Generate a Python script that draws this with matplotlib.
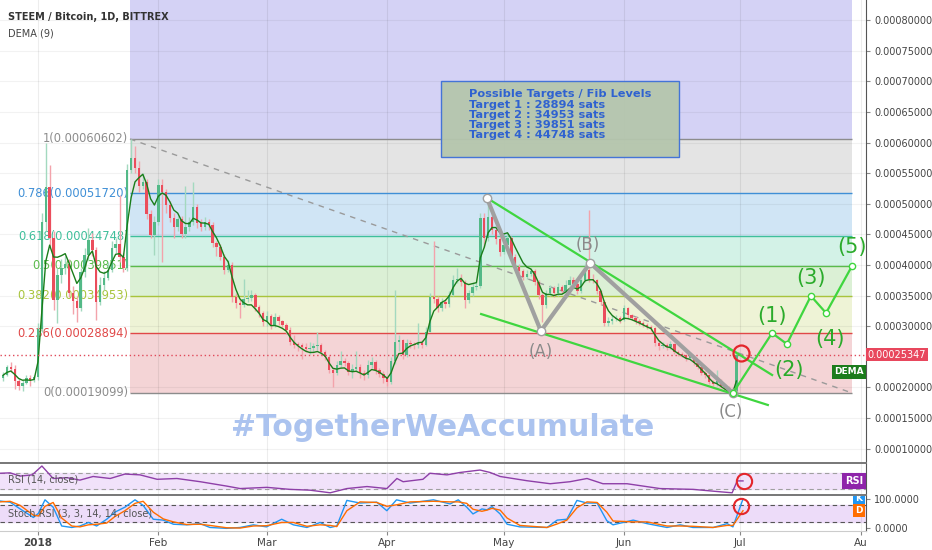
import numpy as np
import pandas as pd
import matplotlib
matplotlib.use('Agg')
import matplotlib.pyplot as plt
from matplotlib.patches import Rectangle

plt.rcParams['font.family'] = ['DejaVu Sans']

# STEEM/BTC daily candles, prices in thousands of satoshi (10.0 = 0.00010000 BTC)
# day 0 = 2018-01-01, first candle on day -9
first_day = -9
first_open = 21.5
closes = [
    22.0, 23.3, 23.0, 21.0, 20.3, 20.8, 21.5, 21.2, 21.7, 29.5,
    47.0, 52.8, 44.5, 34.3, 38.4, 39.5, 40.2, 35.5, 34.2, 33.0,
    38.9, 41.6, 44.1, 42.5, 34.0, 36.7, 37.9, 39.2, 42.8, 43.5,
    41.3, 39.5, 55.5, 57.5, 55.9, 53.0, 53.5, 48.3, 44.9, 47.0,
    53.1, 51.9, 49.8, 47.7, 46.2, 47.5, 45.0, 46.3, 47.0, 49.5,
    46.9, 46.2, 47.0, 46.5, 43.6, 43.0, 41.3, 39.2, 40.0, 34.8,
    33.8, 33.5, 34.5, 34.6, 35.1, 33.1, 32.2, 30.7, 31.7, 30.2,
    31.5, 30.8, 30.2, 29.4, 27.4, 27.0, 26.9, 26.6, 26.3, 26.4,
    26.7, 27.0, 25.8, 25.0, 22.8, 22.4, 23.7, 24.3, 24.0, 22.5,
    23.0, 23.4, 22.4, 22.0, 23.7, 24.2, 22.8, 22.2, 21.5, 20.9,
    24.4, 27.5, 27.8, 25.3, 27.3, 27.1, 26.9, 27.3, 27.0, 29.1,
    34.8, 34.5, 33.0, 34.0, 33.6, 35.1, 37.6, 37.8, 37.3, 34.3,
    35.4, 36.4, 36.6, 47.7, 44.4, 47.9, 45.7, 44.3, 42.2, 43.3,
    44.5, 41.4, 39.7, 39.0, 38.1, 38.6, 39.1, 37.3, 35.1, 33.5,
    35.4, 36.2, 35.4, 36.4, 35.8, 36.8, 37.6, 36.9, 35.8, 37.5,
    39.2, 37.8, 37.5, 35.8, 34.0, 30.5, 30.8, 31.2, 31.3, 31.0,
    33.0, 31.8, 31.4, 30.9, 30.6, 30.2, 29.9, 29.7, 27.3, 26.7,
    27.0, 26.6, 27.1, 25.8, 25.5, 25.3, 24.8, 25.1, 24.0, 23.4,
    22.4, 22.0, 20.9, 20.6, 21.1, 20.3, 19.8, 19.6, 19.4, 25.347,
]
highs = [
    22.6, 23.6, 24.2, 23.6, 21.4, 21.3, 22.0, 22.0, 22.1, 30.5,
    48.5, 60.0, 56.4, 45.5, 39.5, 41.0, 41.5, 41.0, 36.5, 35.0,
    39.5, 42.8, 46.0, 45.2, 43.0, 38.0, 39.0, 40.5, 44.0, 44.5,
    51.5, 42.0, 56.5, 60.6, 59.5, 57.0, 55.0, 54.0, 49.0, 48.0,
    54.0, 54.0, 52.5, 50.5, 48.5, 48.0, 48.0, 53.0, 47.8, 53.6,
    50.0, 47.5, 47.8, 47.5, 47.0, 44.0, 43.5, 41.8, 40.8, 40.5,
    35.5, 34.5, 37.8, 36.0, 36.0, 35.5, 33.5, 32.5, 32.5, 32.0,
    32.2, 31.8, 31.0, 30.5, 29.8, 28.5, 27.5, 27.3, 27.2, 27.5,
    27.3, 29.0, 27.3, 26.2, 25.3, 23.2, 24.3, 26.0, 24.8, 24.3,
    23.8, 26.0, 23.8, 22.8, 24.5, 25.0, 24.5, 23.2, 22.7, 21.8,
    25.0, 36.0, 28.5, 28.0, 28.0, 27.8, 27.5, 30.5, 27.8, 29.8,
    35.5, 44.0, 35.0, 34.6, 34.5, 35.8, 38.3, 39.5, 38.5, 37.6,
    36.0, 37.0, 37.2, 48.5, 48.5, 50.8, 48.5, 46.2, 44.8, 44.0,
    45.2, 44.8, 41.8, 40.2, 39.4, 39.2, 39.6, 39.4, 37.6, 35.4,
    36.0, 36.8, 36.6, 37.0, 36.8, 37.5, 38.2, 38.0, 37.2, 38.0,
    40.2, 49.0, 38.5, 37.8, 36.0, 34.3, 31.5, 31.8, 31.8, 31.6,
    33.4, 33.2, 32.0, 31.6, 31.2, 30.9, 30.5, 30.2, 29.9, 27.6,
    27.5, 27.3, 27.6, 27.3, 26.1, 25.8, 25.5, 25.5, 25.3, 24.3,
    23.6, 22.7, 22.2, 21.2, 22.8, 21.4, 20.6, 20.2, 19.9, 26.0,
]
lows = [
    21.0, 21.8, 22.5, 19.8, 19.6, 19.5, 20.5, 20.3, 20.9, 21.3,
    29.0, 45.5, 43.0, 32.7, 30.5, 37.0, 38.5, 34.8, 32.0, 30.7,
    32.5, 38.0, 40.8, 41.5, 31.0, 33.5, 36.0, 37.5, 38.8, 42.0,
    40.5, 38.8, 39.0, 55.0, 55.0, 52.0, 52.5, 47.5, 44.5, 41.6,
    46.5, 40.5, 48.5, 47.0, 44.5, 45.5, 44.5, 44.5, 45.5, 46.5,
    46.0, 45.5, 45.8, 45.8, 43.0, 41.5, 40.8, 38.5, 38.8, 34.0,
    33.0, 31.4, 33.2, 34.0, 34.2, 32.5, 31.5, 30.0, 30.0, 29.5,
    29.8, 30.2, 29.8, 28.8, 27.0, 26.5, 26.0, 24.7, 25.8, 25.5,
    25.8, 26.2, 25.3, 24.5, 22.3, 20.1, 22.0, 23.3, 23.5, 22.0,
    21.5, 22.7, 21.5, 21.3, 21.6, 23.2, 22.2, 21.7, 20.8, 20.2,
    20.5, 23.8, 26.0, 24.6, 25.0, 26.5, 26.3, 26.5, 26.5, 26.8,
    29.0, 33.8, 32.3, 32.5, 33.0, 33.2, 35.0, 37.0, 36.5, 33.0,
    33.8, 35.0, 36.0, 36.2, 43.0, 44.0, 45.0, 43.5, 41.5, 41.8,
    43.0, 40.8, 39.2, 38.5, 37.6, 37.8, 38.2, 36.8, 34.5, 30.7,
    33.0, 35.0, 34.8, 35.0, 35.2, 35.4, 36.4, 36.2, 35.2, 35.5,
    37.2, 37.3, 37.0, 35.2, 33.5, 30.0, 30.0, 30.4, 30.8, 30.5,
    30.8, 31.4, 31.0, 30.4, 30.2, 29.8, 29.5, 29.3, 26.8, 26.2,
    26.4, 26.2, 26.3, 25.5, 25.1, 24.9, 24.4, 24.5, 23.6, 23.0,
    22.0, 21.5, 20.5, 20.2, 20.3, 19.9, 19.4, 19.2, 19.1, 19.1,
]

# RSI (14, close)
rsi_days = [-9.8, -7.2, -4.6, -1.5, 1.0, 3.9, 7.5, 10.8, 14.2, 18.6, 22.4, 26.3,
            30.7, 35.8, 41.8, 48.7, 52.1, 59.0, 64.9, 70.1, 75.3, 79.6, 84.8,
            89.9, 92.5, 94.1, 99.2, 101.0, 105.4, 108.8, 113.9, 116.5, 119.1,
            126.0, 132.0, 137.1, 141.5, 145.6, 151.8, 160.3, 168.8, 175.8,
            178.9, 180.2, 181.7]
rsi_vals = [70, 71, 63, 66, 88, 57, 59, 53, 62, 57, 68, 66,
            55, 57, 49, 38, 32, 35, 30, 28, 21.5, 32, 37,
            32, 57, 49, 55, 70, 66, 72, 78, 72, 62,
            51.5, 44, 49, 57, 44, 44, 32, 30, 24,
            21.5, 51, 51]

stoch_days = [-9.8, -7.2, -4.6, -1.2, 0.1, 1.8, 3.9, 6.1, 8.7, 10.8, 13.0, 15.1,
              17.7, 19.8, 22.4, 25.0, 27.1, 29.7, 32.3, 34.9, 38.3, 41.8, 44.3,
              48.6, 52.1, 55.5, 58.9, 62.8, 65.8, 69.3, 72.7, 75.3, 77.0, 79.6,
              83.0, 87.3, 89.9, 92.4, 95.9, 101.9, 106.2, 108.3, 110.5, 112.1,
              114.4, 115.7, 117.0, 119.1, 120.9, 124.2, 131.2, 133.8, 136.3,
              138.9, 141.5, 144.1, 146.6, 148.2, 153.4, 157.0, 162.1, 165.5,
              168.8, 174.0, 177.6, 179.1, 181.7]
stoch_k = [93, 89, 66, 37, 51, 97, 72, 8, 3, 8, 20, 8,
           31, 55, 72, 97, 78, 31, 28, 14, 12, 16, 3,
           0, 3, 12, 5, 31, 12, 3, 20, 3, 8, 95,
           86, 89, 60, 97, 86, 97, 83, 97, 72, 49,
           66, 63, 74, 49, 14, 5, 3, 28, 31,
           95, 86, 86, 26, 12, 28, 16, 3, 12,
           3, 3, 16, 5, 100]
stoch_d = [90, 92, 78, 45, 42, 75, 88, 35, 8, 5, 12, 14,
           18, 40, 60, 85, 92, 55, 32, 22, 13, 14, 10,
           2, 1, 8, 9, 20, 20, 7, 12, 10, 6, 60,
           90, 88, 75, 80, 90, 92, 90, 90, 85, 65,
           58, 62, 68, 62, 35, 10, 3, 15, 28,
           70, 90, 88, 55, 25, 22, 22, 8, 8,
           7, 3, 10, 10, 60]

month_days = [0, 31, 59, 90, 120, 151, 181, 212]
month_labels = ['2018', 'Feb', 'Mar', 'Apr', 'May', 'Jun', 'Jul', 'Au']

# fib retracement drawn from the Jan high to the Jun low
fib_ratios = ['1', '0.786', '0.618', '0.5', '0.382', '0.236', '0']
fib_prices = [60.602, 51.720, 44.748, 39.851, 34.953, 28.894, 19.099]
fib_start, fib_end = 23.7, 209.8
targets = [28894, 34953, 39851, 44748]

# elliott wave drawings (day, price)
abc_days = [115.7, 129.6, 142.3, 179.1]
abc_prices = [50.96, 29.23, 40.34, 19.10]
abc_labels = ['(A)', '(B)', '(C)']
wave_days = [179.1, 189.2, 193.0, 199.2, 203.1, 209.8]
wave_prices = [19.10, 28.894, 27.1, 34.953, 32.17, 39.851]
wave_labels = ['(1)', '(2)', '(3)', '(4)', '(5)']
channel_top = ([115.7, 189.2], [50.96, 22.04])
channel_bottom = ([114.2, 188.1], [32.0, 17.14])

# styles
fib_colors = ['#8c8c8c', '#3f8fd6', '#3fbf9b', '#5abb4b', '#a8c43c', '#e04848', '#8c8c8c']
band_colors = ['#e4e4e4', '#d0e5f5', '#d3f2e7', '#dbf0d5', '#eef3d6', '#f4d4d6']
UP, DOWN = '#53b987', '#eb4d5c'
LIME = '#3fd63f'
WAVE_TXT = '#2bab2b'

W, H = 932, 550
fig = plt.figure(figsize=(W / 100, H / 100), dpi=100)
ax = fig.add_axes([0, 1 - 463 / H, 866 / W, 463 / H])
ax_rsi = fig.add_axes([0, 1 - 495 / H, 866 / W, 31 / H])
ax_st = fig.add_axes([0, 1 - 531 / H, 866 / W, 35 / H])

days = np.arange(first_day, first_day + len(closes))
o = np.array([first_open] + closes[:-1])
c = np.array(closes)
up = c >= o

# --- main pane -------------------------------------------------------
ax.add_patch(Rectangle((fib_start, fib_prices[0]), fib_end - fib_start, 40,
                       fc='#d4d2f5', ec='none', zorder=0.5))
for i in range(len(fib_prices) - 1):
    ax.add_patch(Rectangle((fib_start, fib_prices[i + 1]), fib_end - fib_start,
                           fib_prices[i] - fib_prices[i + 1],
                           fc=band_colors[i], ec='none', zorder=0.5))
for r, p, col in zip(fib_ratios, fib_prices, fib_colors):
    ax.hlines(p, fib_start, fib_end, color=col, lw=1, zorder=2)
    ax.text(fib_start - 0.4, p, f'{r}({p * 1e-5:.8f})', ha='right', va='center',
            fontsize=8.3, color=col, zorder=2)
ax.plot([fib_start, fib_end], [fib_prices[0], fib_prices[-1]], color='#9a9a9a',
        ls=(0, (4, 4)), lw=1, zorder=2.5)

ax.text(104.4, 13.4, '#TogetherWeAccumulate', ha='center', va='center',
        fontsize=21.5, fontweight='bold', color='#abc3ef', zorder=2)

ax.vlines(days, lows, highs, colors=np.where(up, '#a3d9bf', '#f3a3ab'), lw=1, zorder=3)
ax.bar(days, np.maximum(np.abs(c - o), 0.15), bottom=np.minimum(o, c), width=0.62,
       color=np.where(up, UP, DOWN), zorder=4)

s = pd.Series(closes)
e1 = s.ewm(span=9, adjust=False).mean()
e2 = e1.ewm(span=9, adjust=False).mean()
dema = 2 * e1 - e2
ax.plot(days, dema, color='#1a7d1a', lw=1, zorder=5)

ax.axhline(closes[-1], color='#e04a5a', ls=(0, (1, 2)), lw=1, zorder=5)

ax.plot(*channel_top, color=LIME, lw=1.6, zorder=6)
ax.plot(*channel_bottom, color=LIME, lw=1.6, zorder=6)
ax.plot(abc_days, abc_prices, color='#a0a0a0', lw=3, zorder=6.5,
        marker='o', ms=6, mfc='white', mec='#a0a0a0')
ax.plot(wave_days, wave_prices, color=LIME, lw=1.6, zorder=6.5,
        marker='o', ms=4.5, mfc='white', mec=LIME)
for lab, x, y in zip(abc_labels, [129.6, 141.8, 178.6], [25.8, 43.3, 16.0]):
    ax.text(x, y, lab, ha='center', va='center', fontsize=12, color='#8a8a8a', zorder=7)
for lab, x, y in zip(wave_labels, [189.2, 193.6, 199.2, 204.1, 209.8],
                     [31.7, 22.85, 37.9, 27.9, 42.95]):
    ax.text(x, y, lab, ha='center', va='center', fontsize=15, color=WAVE_TXT, zorder=7)
ax.plot(181.2, 25.63, 'o', ms=11.5, mfc='none', mec='#e3262b', mew=1.6, zorder=8)

ax.add_patch(Rectangle((103.9, 57.66), 61.3, 12.42, fc='#b5c6ad', ec='#3d6fd8',
                       lw=1, alpha=0.95, zorder=7))
box_text = 'Possible Targets / Fib Levels\n' + '\n'.join(
    f'Target {i + 1} : {t} sats' for i, t in enumerate(targets))
ax.text(111, 68.7, box_text, ha='left', va='top', fontsize=8.2, fontweight='bold',
        color='#2f62d0', linespacing=1.03, zorder=8)

ax.text(0.997, dema.iloc[-1] + 1.5, 'DEMA', transform=ax.get_yaxis_transform(),
        ha='right', va='center', fontsize=6.5, fontweight='bold', color='white',
        bbox=dict(boxstyle='square,pad=0.25', fc='#1c7c1c', ec='none'), zorder=9)
ax.text(1.002, closes[-1], f'{closes[-1] * 1e-5:.8f}', transform=ax.get_yaxis_transform(),
        ha='left', va='center', fontsize=7, color='white', clip_on=False,
        bbox=dict(boxstyle='square,pad=0.15', fc='#e8475d', ec='none'), zorder=10)

ax.set_ylim(7.66, 83.31)
ticks = [t for t in range(10, 81, 5) if t != 25]
ax.yaxis.tick_right()
ax.set_yticks(ticks)
ax.set_yticklabels([f'{t * 1e-5:.8f}' for t in ticks])

fig.text(8 / W, 1 - 17 / H, 'STEEM / Bitcoin, 1D, BITTREX', fontsize=7,
         color='#333333', va='center', fontweight='semibold')
fig.text(8 / W, 1 - 33 / H, 'DEMA (9)', fontsize=7, color='#444444', va='center')

# --- RSI pane --------------------------------------------------------
ax_rsi.axhspan(30, 70, color='#f1e2fa', zorder=0.5)
ax_rsi.axhline(70, color='#a0a0a0', ls=(0, (4, 3)), lw=0.8)
ax_rsi.axhline(30, color='#a0a0a0', ls=(0, (4, 3)), lw=0.8)
ax_rsi.plot(rsi_days, rsi_vals, color='#8e3fa8', lw=1, zorder=3)
ax_rsi.plot(182.0, 51.5, 'o', ms=11, mfc='none', mec='#e3262b', mew=1.5, zorder=8)
ax_rsi.text(0.009, 0.5, 'RSI (14, close)', transform=ax_rsi.transAxes, fontsize=7,
            color='#555555', va='center')
ax_rsi.text(0.997, rsi_vals[-1], 'RSI', transform=ax_rsi.get_yaxis_transform(),
            ha='right', va='center', fontsize=7, fontweight='bold', color='white',
            bbox=dict(boxstyle='square,pad=0.3', fc='#8e24aa', ec='none'), zorder=9)
ax_rsi.set_ylim(16, 93)
ax_rsi.set_yticks([])

# --- Stoch RSI pane --------------------------------------------------
ax_st.axhspan(20, 80, color='#eddcf9', zorder=0.5)
ax_st.axhline(80, color='#555555', ls=(0, (4, 3)), lw=0.8)
ax_st.axhline(20, color='#555555', ls=(0, (4, 3)), lw=0.8)
ax_st.plot(stoch_days, stoch_k, color='#2196f3', lw=1, zorder=3)
ax_st.plot(stoch_days, stoch_d, color='#ff6d00', lw=1, zorder=3)
ax_st.plot(181.2, 77, 'o', ms=11, mfc='none', mec='#e3262b', mew=1.5, zorder=8,
           clip_on=False)
ax_st.text(0.009, 0.5, 'Stoch RSI (3, 3, 14, 14, close)', transform=ax_st.transAxes,
           fontsize=7, color='#555555', va='center')
for val, lab, col in [(stoch_k[-1], 'K', '#2196f3'), (stoch_d[-1], 'D', '#ff6d00')]:
    ax_st.text(0.996, val, lab, transform=ax_st.get_yaxis_transform(), ha='right',
               va='center', fontsize=6.5, fontweight='bold', color='white', clip_on=True,
               bbox=dict(boxstyle='square,pad=0.25', fc=col, ec='none'), zorder=9)
ax_st.set_ylim(-9, 110)
ax_st.yaxis.tick_right()
ax_st.set_yticks([0, 100])
ax_st.set_yticklabels(['0.0000', '100.0000'])

# --- shared styling --------------------------------------------------
for a in (ax, ax_rsi, ax_st):
    a.set_xlim(-9.8, 213.4)
    a.set_xticks(month_days)
    for m in month_days:
        a.axvline(m, color='#000000', alpha=0.07, lw=0.8, zorder=1)
    a.spines['left'].set_visible(False)
    a.spines['top'].set_visible(False)
    a.spines['right'].set_color('#555555')
    a.spines['bottom'].set_color('#777777')
    a.spines['bottom'].set_linewidth(1.4)
    a.tick_params(axis='y', length=3, color='#888888', labelsize=7, labelcolor='#444444', pad=3)
    a.tick_params(axis='x', length=0, labelbottom=False)
for t in ticks:
    ax.axhline(t, color='#000000', alpha=0.05, lw=0.8, zorder=1)
ax_st.spines['bottom'].set_color('#cccccc')
ax_st.spines['bottom'].set_linewidth(0.8)
ax_st.tick_params(axis='x', length=3, color='#888888', labelbottom=True, labelsize=7.5,
                  labelcolor='#444444', pad=2)
ax_st.set_xticklabels(month_labels)
ax_st.get_xticklabels()[0].set_fontweight('bold')

fig.savefig('out.png', dpi=100)
